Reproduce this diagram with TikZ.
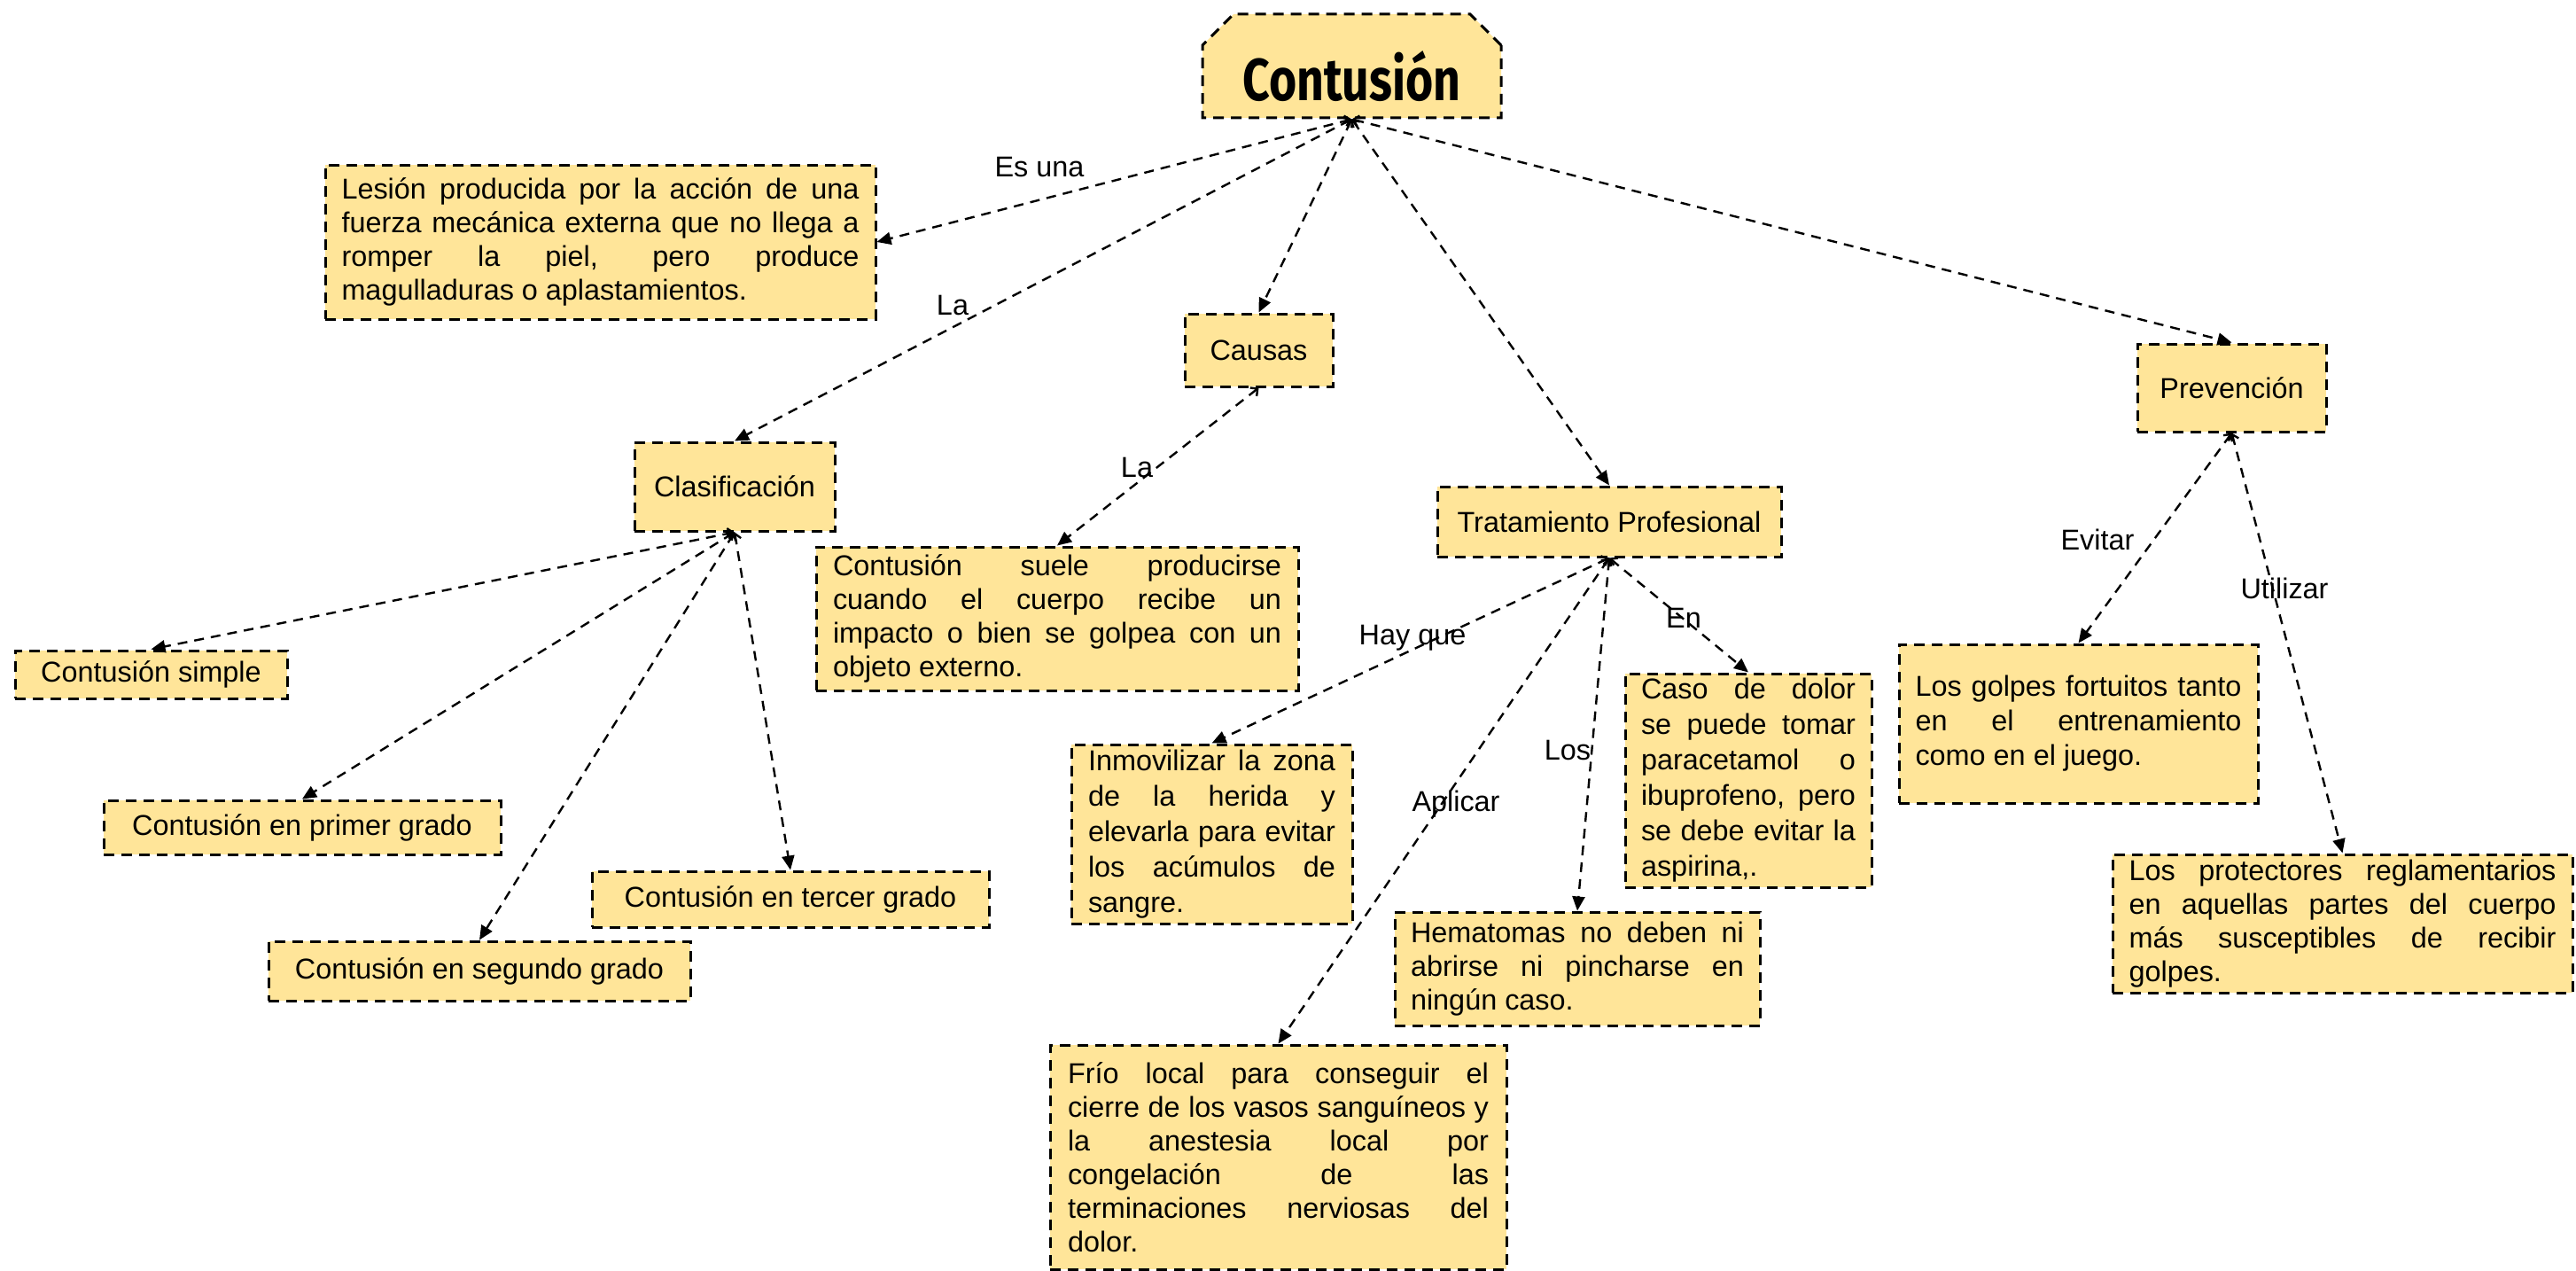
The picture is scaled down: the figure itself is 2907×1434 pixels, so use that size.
\documentclass[tikz,border=0pt]{standalone}
\usepackage{fontspec}
\setmainfont{Liberation Sans}
\newfontfamily\titlefont{Fira Sans}
\usetikzlibrary{arrows.meta,shapes.misc}
\definecolor{boxfill}{HTML}{FFE599}
\tikzset{
  base/.style={font=\fontsize{16.2pt}{19pt}\selectfont, execute at begin node={\hyphenpenalty=10000\relax}},
  box/.style={base, draw=black, fill=boxfill, line width=1.5pt, dash pattern=on 6pt off 4pt, inner sep=0pt},
  jbox/.style={box, align=justify},
  conn/.style={line width=1.2pt, dash pattern=on 5.5pt off 4pt, {Straight Barb[length=3pt,width=6pt]}-{Triangle[length=8pt,width=7pt]}},
  lbl/.style={base, inner sep=0pt},
}
\begin{document}
\begin{tikzpicture}[x=0.5pt,y=-0.5pt]
\useasboundingbox (0,0) rectangle (2907,1434);
% title
\node[box, chamfered rectangle, chamfered rectangle corners={north west,north east},
      chamfered rectangle xsep=9pt, chamfered rectangle ysep=8.5pt,
      minimum width=168.5pt, minimum height=58.5pt, text height=38.5pt, text depth=0pt]
  (title) at (1525.5,74.5) {\resizebox{123pt}{28pt}{\titlefont\bfseries Contusión}};
% level 1
\node[jbox, text width=292pt, minimum width=310.5pt, minimum height=87pt] (lesion) at (677.5,273)
  {Lesión producida por la acción de una\linebreak fuerza mecánica externa que no llega a\linebreak romper la piel, pero produce\linebreak magulladuras o aplastamientos.};
\node[box, minimum width=83.5pt, minimum height=41pt] (causas) at (1420.5,395) {Causas};
\node[box, minimum width=113pt, minimum height=50pt] (clas) at (829,549) {Clasificación};
\node[box, minimum width=194pt, minimum height=39.5pt] (trat) at (1816,588.5) {Tratamiento Profesional};
\node[box, minimum width=106.5pt, minimum height=49.5pt] (prev) at (2518.5,437.5) {Prevención};
% causas
\node[jbox, text width=253pt, minimum width=272pt, minimum height=81pt] (suele) at (1193,698)
  {Contusión suele producirse\linebreak cuando el cuerpo recibe un\linebreak impacto o bien se golpea con un\linebreak objeto externo.};
% clasificacion
\node[box, minimum width=153.5pt, minimum height=27pt] (simple) at (170.5,761) {Contusión simple};
\node[box, minimum width=224pt, minimum height=30.5pt] (primer) at (341,933.5) {Contusión en primer grado};
\node[box, minimum width=224pt, minimum height=31.5pt] (tercer) at (892,1014.5) {Contusión en tercer grado};
\node[box, minimum width=238pt, minimum height=33.5pt] (segundo) at (541,1095.5) {Contusión en segundo grado};
% tratamiento
\node[jbox, font=\fontsize{16.2pt}{20pt}\selectfont, text width=139.5pt, minimum width=158.5pt, minimum height=101pt] (inmov) at (1367.5,941)
  {Inmovilizar la zona\linebreak de la herida y\linebreak elevarla para evitar\linebreak los acúmulos de\linebreak sangre.};
\node[jbox, font=\fontsize{16.2pt}{20pt}\selectfont, text width=121pt, minimum width=139pt, minimum height=120.5pt] (caso) at (1973,880.5)
  {Caso de dolor\linebreak se puede tomar\linebreak paracetamol o\linebreak ibuprofeno, pero\linebreak se debe evitar la\linebreak aspirina,.};
\node[jbox, text width=188pt, minimum width=206pt, minimum height=64pt] (hemat) at (1780,1093)
  {Hematomas no deben ni\linebreak abrirse ni pincharse en\linebreak ningún caso.};
\node[jbox, text width=237.5pt, minimum width=257.5pt, minimum height=126.5pt] (frio) at (1442.5,1305.5)
  {Frío local para conseguir el\linebreak cierre de los vasos sanguíneos y\linebreak la anestesia local por\linebreak congelación de las\linebreak terminaciones nerviosas del\linebreak dolor.};
% prevencion
\node[jbox, font=\fontsize{16.2pt}{19.5pt}\selectfont, text width=184pt, minimum width=202.5pt, minimum height=89.5pt] (golpes) at (2345.5,816.5)
  {Los golpes fortuitos tanto\linebreak en el entrenamiento\linebreak como en el juego.};
\node[jbox, text width=241pt, minimum width=259.5pt, minimum height=78pt] (protec) at (2643.5,1042)
  {Los protectores reglamentarios\linebreak en aquellas partes del cuerpo\linebreak más susceptibles de recibir\linebreak golpes.};
% connectors
\draw[conn] (title.south) -- (lesion.east);
\draw[conn] (title.south) -- (clas.north);
\draw[conn] (title.south) -- (causas.north);
\draw[conn] (title.south) -- (trat.north);
\draw[conn] (title.south) -- (prev.north);
\draw[conn] (causas.south) -- (suele.north);
\draw[conn] (clas.south) -- (simple.north);
\draw[conn] (clas.south) -- (primer.north);
\draw[conn] (clas.south) -- (segundo.north);
\draw[conn] (clas.south) -- (tercer.north);
\draw[conn] (trat.south) -- (inmov.north);
\draw[conn] (trat.south) -- (frio.north);
\draw[conn] (trat.south) -- (hemat.north);
\draw[conn] (trat.south) -- (caso.north);
\draw[conn] (prev.south) -- (golpes.north);
\draw[conn] (prev.south) -- (protec.north);
% labels
\node[lbl] (l1) at (1173,189) {Es una};
\node[lbl] (l2) at (1075,345) {La};
\node[lbl] (l3) at (1283,528) {La};
\node[lbl] (l4) at (1594,720) {Hay que};
\node[lbl] (l5) at (1900,697) {En};
\node[lbl] (l6) at (1769,847) {Los};
\node[lbl] (l7) at (1643,907) {Aplicar};
\node[lbl] (l8) at (2367,609) {Evitar};
\node[lbl] (l9) at (2578,664) {Utilizar};
\end{tikzpicture}
\end{document}
